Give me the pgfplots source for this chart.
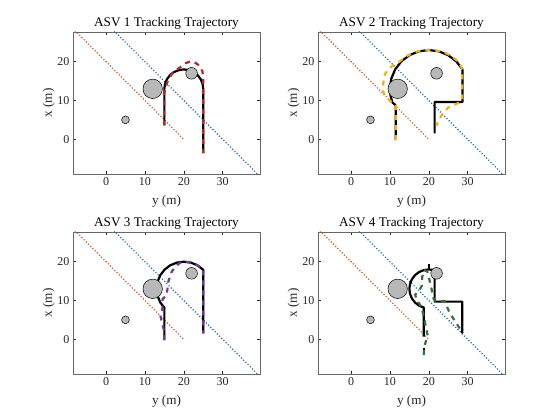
\documentclass[border=0pt]{standalone}
\usepackage{fontspec}
\setmainfont{Liberation Serif}
\usepackage{pgfplots}
\pgfplotsset{compat=1.18}

\definecolor{obs}{rgb}{0.72,0.72,0.72}
\definecolor{morange}{rgb}{0.80,0.36,0.15}
\definecolor{mblue}{rgb}{0.12,0.43,0.68}
\definecolor{mred}{rgb}{0.70,0.16,0.16}
\definecolor{myellow}{rgb}{0.929,0.694,0.125}
\definecolor{mpurple}{rgb}{0.45,0.22,0.56}
\definecolor{mgreen}{rgb}{0.22,0.44,0.24}
\definecolor{axgray}{rgb}{0.15,0.15,0.15}

\pgfplotsset{
  asv/.style={
    scale only axis, width=187pt, height=142pt,
    xmin=-8.5, xmax=39.6, ymin=-8.95, ymax=27.65,
    xtick={0,10,20,30}, ytick={0,10,20},
    tick align=inside, major tick length=3pt,
    axis line style={draw=axgray!70, line width=0.6pt},
    tick style={draw=axgray, line width=0.5pt},
    ticklabel style={font=\fontsize{12}{14}\selectfont, text=axgray},
    /pgf/number format/assume math mode=true,
    xlabel={y (m)}, ylabel={x (m)},
    label style={font=\fontsize{13.2}{15}\selectfont, text=axgray},
    xlabel style={at={(axis description cs:0.5,-0.195)}, anchor=center},
    ylabel style={at={(axis description cs:-0.13,0.5)}, anchor=center, rotate=0},
    title style={font=\fontsize{13.2}{15}\selectfont, text=black, yshift=-7pt},
    anchor=south west,
  },
  refp/.style={black, line width=2.2pt, line join=round},
  trk/.style={line width=2.2pt, dash pattern=on 5pt off 5pt},
  dot1/.style={morange, line width=1.3pt, dash pattern=on 1.1pt off 2.0pt},
  dot2/.style={mblue, line width=1.3pt, dash pattern=on 1.1pt off 2.0pt},
  obst/.style={only marks, mark=*, mark options={fill=obs, draw=black, line width=0.5pt}},
}

\newcommand{\common}{%
  \addplot[dot1] coordinates {(-8,28) (20,0)};
  \addplot[dot2] coordinates {(2,28) (39,-9)};
  \addplot[obst, mark size=9.72pt] coordinates {(12,13)};
  \addplot[obst, mark size=3.89pt] coordinates {(5,5)};
  \addplot[obst, mark size=5.83pt] coordinates {(22,17)};
}

\begin{document}
\begin{tikzpicture}
\useasboundingbox (0pt,0pt) rectangle (560pt,420pt);

% ASV 1
\begin{axis}[asv, at={(73pt,246pt)}, title={ASV 1 Tracking Trajectory}]
\common
\addplot[refp] coordinates {(15,3.6) (15,13) (15.17,14.29) (15.67,15.5) (16.46,16.54) (17.5,17.33) (18.71,17.83) (20,18) (21.29,17.83) (22.5,17.33) (23.54,16.54) (24.33,15.5) (24.83,14.29) (25,13) (25,-3.6)};
\addplot[trk, mred] coordinates {(15,3.6) (15,12) (15.4,13.5) (16,15.5) (17.3,17.3) (19,18.5) (20.5,19.6) (21.5,20) (22.8,19.8) (24,19) (24.8,17.5) (25,15.5) (25,-3.6)};
\end{axis}

% ASV 2
\begin{axis}[asv, at={(318pt,246pt)}, title={ASV 2 Tracking Trajectory}]
\common
\addplot[refp] coordinates {(11.5,-0.2) (11.5,8.7) (10.6,9.58) (10.15,11.26) (10,13) (10.34,15.59) (11.34,18) (12.93,20.07) (15,21.66) (17.41,22.66) (20,23) (22.59,22.66) (25,21.66) (27.07,20.07) (28.66,18) (28.66,9.6) (21.5,9.6) (21.5,1.5)};
\addplot[trk, myellow] coordinates {(11.5,-0.2) (11.5,8.8) (10.3,9.7) (8.8,11) (8.2,12.5) (8.3,14.5) (8.7,16.8) (10,18.5) (12,19.6) (14,21.3) (16.5,22.5) (19,23) (21,23) (23.5,22.6) (25.8,21.5) (27.8,19.8) (28.6,18) (28.6,10) (27.5,9.3) (25,8.2) (23.5,6.5) (22.5,4.8) (22,3.5)};
\end{axis}

% ASV 3
\begin{axis}[asv, at={(73pt,46pt)}, title={ASV 3 Tracking Trajectory}]
\common
\addplot[refp] coordinates {(15,-0.2) (15,7.9) (15.05,8.05) (13.94,9.5) (13.24,11.19) (13,13) (13.24,14.81) (13.94,16.5) (15.05,17.95) (16.5,19.06) (18.19,19.76) (20,20) (21.81,19.76) (23.5,19.06) (24.95,17.95) (25,17.9) (25,1.5)};
\addplot[trk, mpurple] coordinates {(15,-0.2) (15,2) (14.3,4.5) (14,6) (14.5,8) (14.5,10.3) (15.6,11.4) (15.8,13) (16,14.8) (16.9,17.4) (17.7,18.6) (19,19.7) (20,20) (21.8,19.8) (23.5,19.1) (25,18) (25,1.5)};
\end{axis}

% ASV 4
\begin{axis}[asv, at={(318pt,46pt)}, title={ASV 4 Tracking Trajectory}]
\common
\addplot[refp] coordinates {(18.7,0.7) (18.71,8.17) (17.5,8.67) (16.46,9.46) (15.67,10.5) (15.17,11.71) (15,13) (15.17,14.29) (15.67,15.5) (16.46,16.54) (17.5,17.33) (18.71,17.83) (20,18) (21.29,17.83) (21.5,17.77) (21.5,9.7) (28.6,9.7) (28.6,1.5)};
\addplot[black, line width=1.6pt] coordinates {(20.1,17.9) (20.1,19.5)};
\addplot[black, line width=1.6pt] coordinates {(18.7,-4.1) (18.7,-2.3)};
\addplot[trk, mgreen] coordinates {(18.7,-4) (18.8,-2) (19.7,1) (19.2,3.5) (18.7,6) (18,8.5) (16.8,10.3) (16.5,11.5) (17.5,12.5) (18.2,13.8) (18.3,16) (18.8,17.8) (19.6,17.5) (20.5,14) (21.2,10.5) (21.8,9.8) (24,9.9) (25.2,7.2) (26.2,5.5) (27.5,3.5) (28.3,2.3)};
\end{axis}
\end{tikzpicture}
\end{document}
